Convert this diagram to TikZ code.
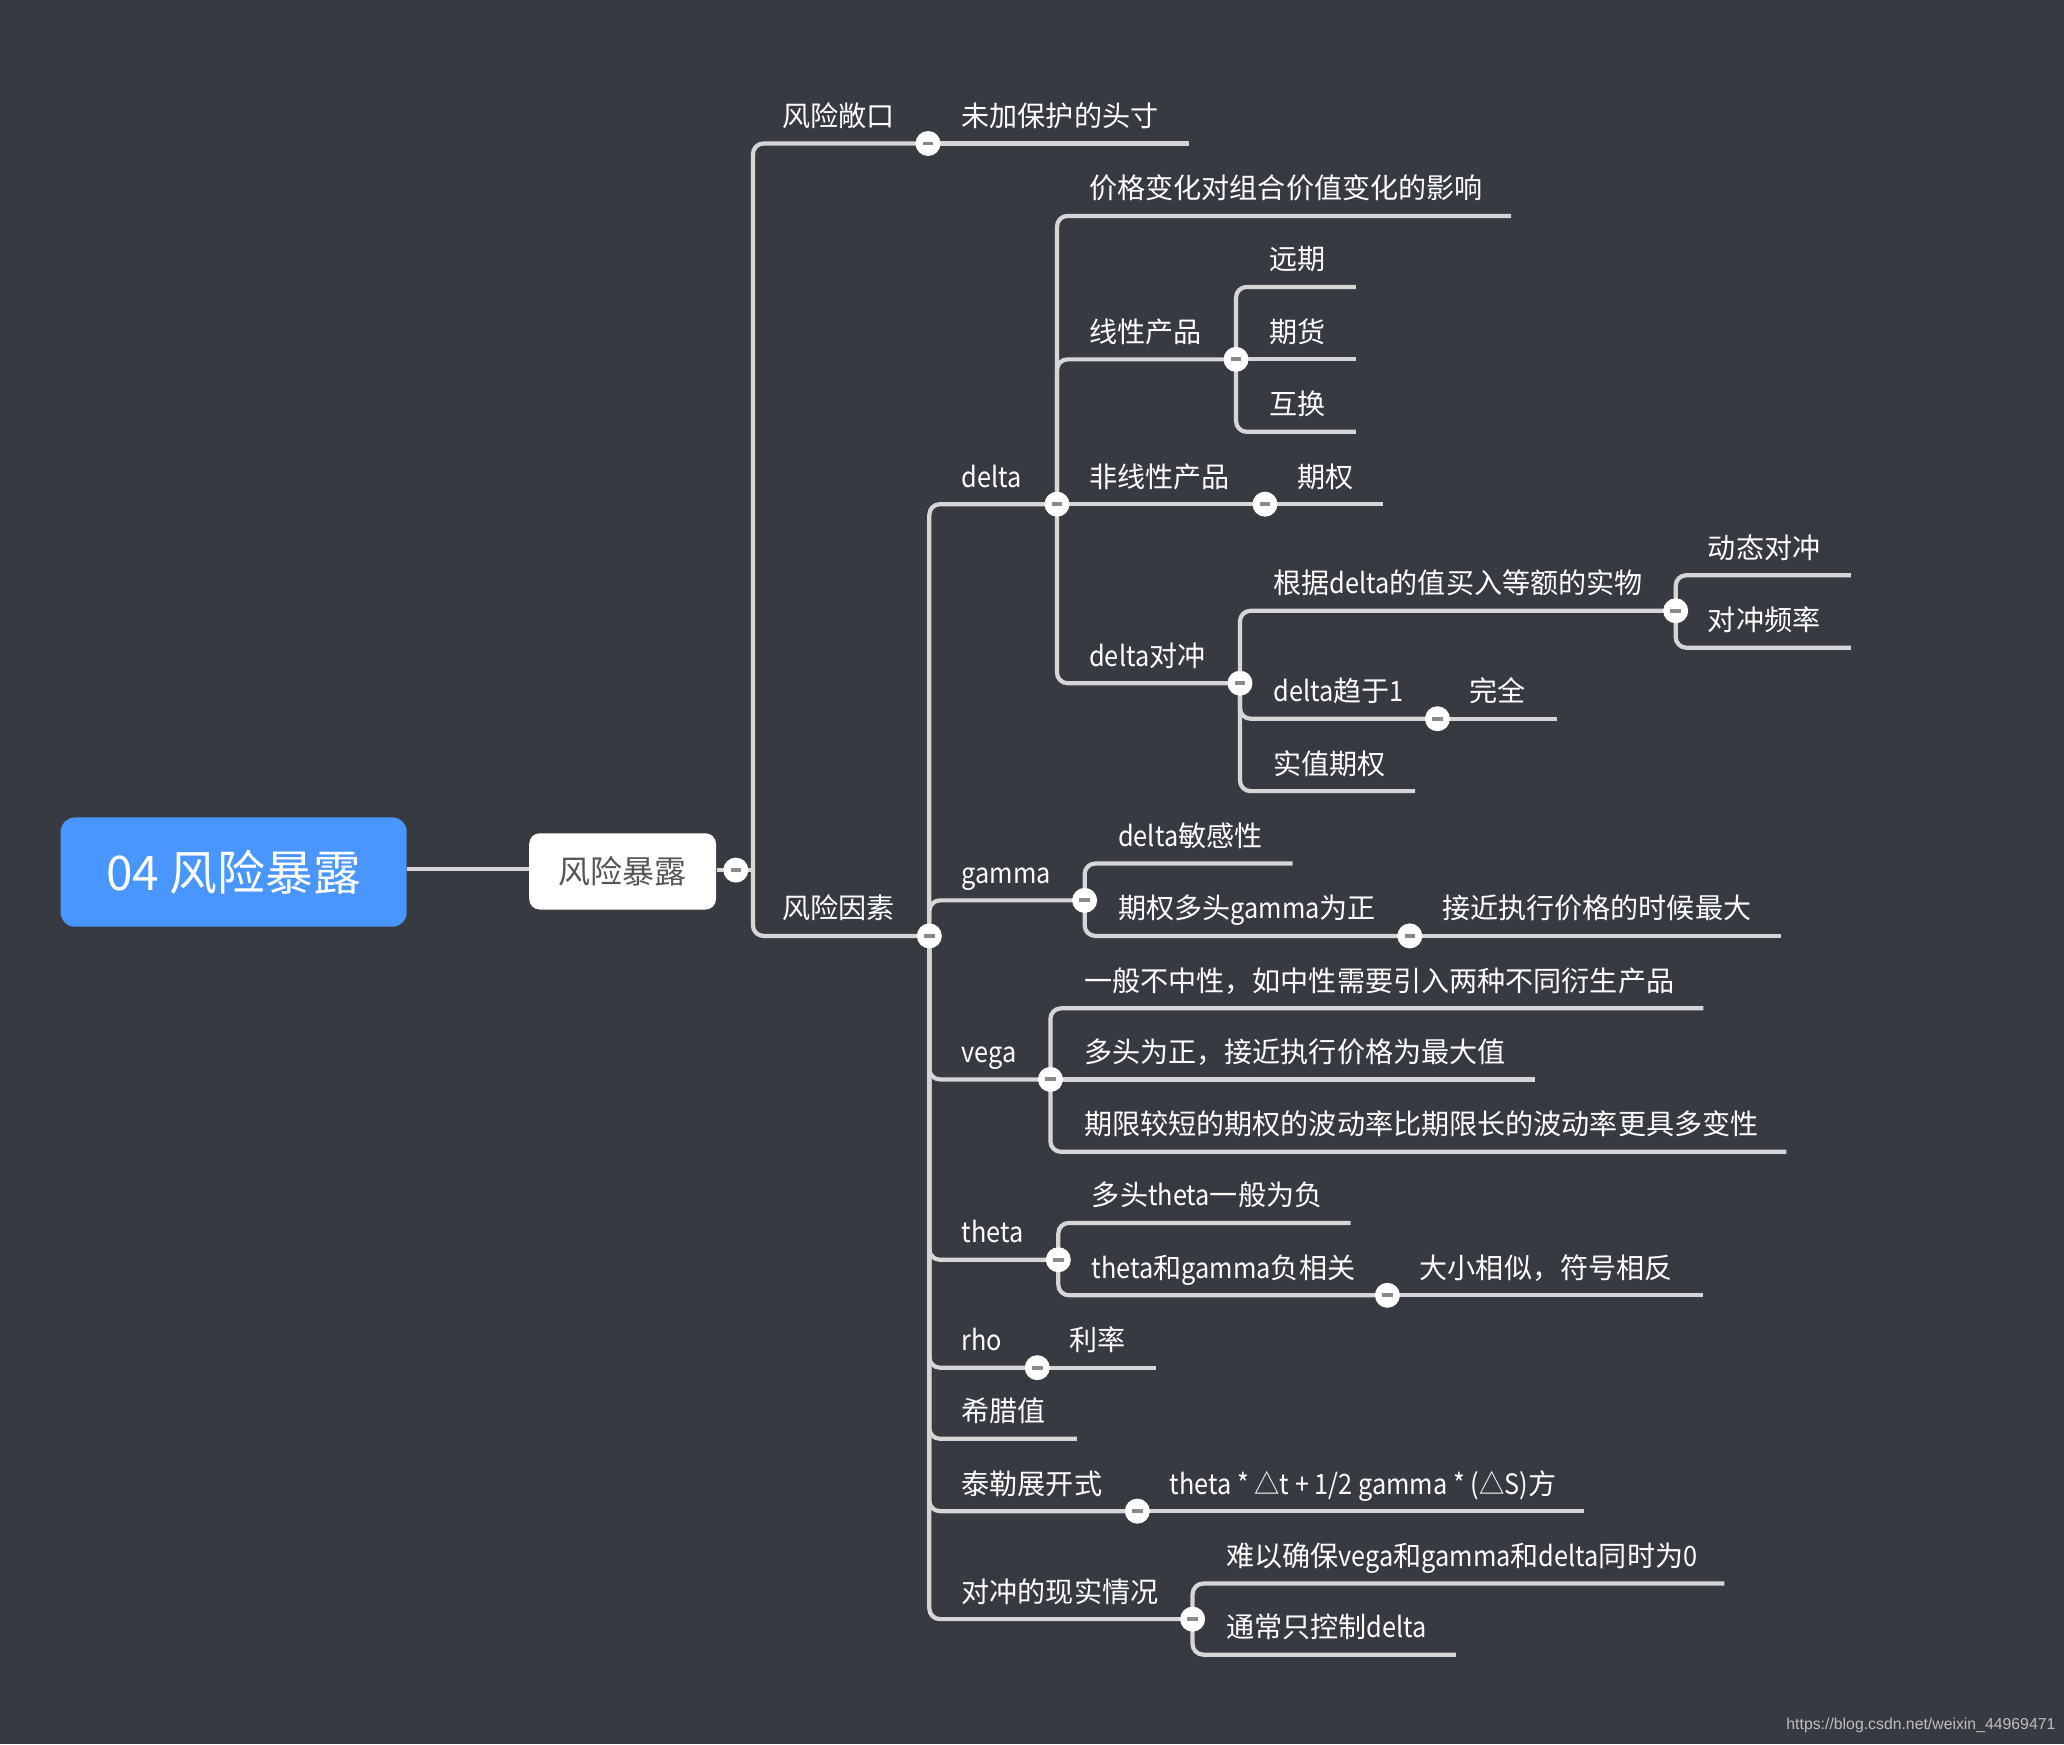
\documentclass[tikz,border=0pt]{standalone}
\usepackage{fontspec}
\setmainfont{Noto Sans CJK SC}
\newfontfamily\latinfont[FakeStretch=0.9]{Noto Sans CJK SC}
\newfontfamily\urlfont{Liberation Sans}
\newcommand{\lat}[1]{{\latinfont #1}}
\usetikzlibrary{positioning}
\definecolor{mapBg}{RGB}{55,58,64}
\definecolor{mapBlue}{RGB}{74,150,255}
\definecolor{mapLine}{RGB}{214,214,214}
\definecolor{mapMinus}{RGB}{138,138,138}
\definecolor{mapSubText}{RGB}{85,85,85}
\definecolor{mapMark}{RGB}{190,190,190}
\tikzset{
  topic/.style={text=white, font=\fontsize{8}{9}\selectfont, inner sep=0pt, anchor=base west},
  branch/.style={draw=mapLine, line width=1.2pt, rounded corners=3pt},
  fold/.style={circle, fill=white, minimum size=0.25cm, inner sep=0pt,
    path picture={\draw[mapMinus, line width=1.1pt]
      ([xshift=-1.5pt]path picture bounding box.center) -- ([xshift=1.5pt]path picture bounding box.center);}},
  rootbox/.style={fill=mapBlue, rounded corners=4pt, text=white, font=\fontsize{13.6}{15}\selectfont,
    minimum width=3.462cm, minimum height=1.0925cm, inner sep=0pt},
  subbox/.style={fill=white, rounded corners=3pt, text=mapSubText, font=\fontsize{9.1}{11}\selectfont,
    minimum width=1.869cm, minimum height=0.763cm, inner sep=0pt}
}

\begin{document}
\begin{tikzpicture}[x=0.013163cm, y=-0.013163cm]
\fill[mapBg] (0,0) rectangle (1568,1325);
\useasboundingbox (0,0) rectangle (1568,1325);

% central topics
\node[rootbox] (root) at (177.5,662.5) {04 风险暴露};
\node[subbox] (sub) at (473,662) {风险暴露};
\draw[branch] (root.east |- 0,660) -- (sub.west |- 0,660);

% fold points
\coordinate (sub-c) at (559,661);
\coordinate (trunk) at (572,661);
\coordinate (exp-c) at (705,109);
\coordinate (fac-c) at (706,711);
\coordinate (delta-c) at (803,383);
\coordinate (lin-c) at (939,273);
\coordinate (nonlin-c) at (961,383);
\coordinate (dhedge-c) at (942,519);
\coordinate (buy-c) at (1273,464);
\coordinate (done-c) at (1092,546);
\coordinate (gamma-c) at (824,684);
\coordinate (gpos-c) at (1071,711);
\coordinate (vega-c) at (798,820);
\coordinate (theta-c) at (804,957);
\coordinate (t2-c) at (1054,984);
\coordinate (rho-c) at (788,1039);
\coordinate (taylor-c) at (864,1148);
\coordinate (real-c) at (906,1230);

% underline ends of leaves
\coordinate (unhedged-e) at (903,109);
\coordinate (dimp-e) at (1148,164);
\coordinate (fwd-e) at (1030,218);
\coordinate (fut-e) at (1030,273);
\coordinate (swp-e) at (1030,328);
\coordinate (opt-e) at (1051,383);
\coordinate (dyn-e) at (1406,437);
\coordinate (freq-e) at (1406,492);
\coordinate (full-e) at (1183,546);
\coordinate (itm-e) at (1075,601);
\coordinate (gsens-e) at (982,656);
\coordinate (gmax-e) at (1353,711);
\coordinate (v1-e) at (1294,766);
\coordinate (v2-e) at (1166,820);
\coordinate (v3-e) at (1357,875);
\coordinate (t1-e) at (1026,929);
\coordinate (t3-e) at (1294,984);
\coordinate (rate-e) at (878,1039);
\coordinate (greeks-e) at (818,1093);
\coordinate (tayf-e) at (1203,1148);
\coordinate (r1-e) at (1310,1203);
\coordinate (r2-e) at (1106,1257);

% texts
\node[topic] (exp) at (594,96) {风险敞口};
\node[topic] (unhedged) at (730,96) {未加保护的头寸};
\node[topic] (fac) at (594,698) {风险因素};
\node[topic] (delta) at (730,370) {\lat{delta}};
\node[topic] (dimp) at (827,151) {价格变化对组合价值变化的影响};
\node[topic] (lin) at (827,260) {线性产品};
\node[topic] (fwd) at (964,205) {远期};
\node[topic] (fut) at (964,260) {期货};
\node[topic] (swp) at (964,315) {互换};
\node[topic] (nonlin) at (827,370) {非线性产品};
\node[topic] (opt) at (985,370) {期权};
\node[topic] (dhedge) at (827,506) {\lat{delta}对冲};
\node[topic] (buy) at (967,451) {根据\lat{delta}的值买入等额的实物};
\node[topic] (dyn) at (1297,424) {动态对冲};
\node[topic] (freq) at (1297,479) {对冲频率};
\node[topic] (done) at (967,533) {\lat{delta}趋于\lat{1}};
\node[topic] (full) at (1116,533) {完全};
\node[topic] (itm) at (967,588) {实值期权};
\node[topic] (gamma) at (730,671) {\lat{gamma}};
\node[topic] (gsens) at (849,643) {\lat{delta}敏感性};
\node[topic] (gpos) at (849,698) {期权多头\lat{gamma}为正};
\node[topic] (gmax) at (1095,698) {接近执行价格的时候最大};
\node[topic] (vega) at (730,807) {\lat{vega}};
\node[topic] (v1) at (823,753) {一般不中性，如中性需要引入两种不同衍生产品};
\node[topic] (v2) at (823,807) {多头为正，接近执行价格为最大值};
\node[topic] (v3) at (823,862) {期限较短的期权的波动率比期限长的波动率更具多变性};
\node[topic] (theta) at (730,944) {\lat{theta}};
\node[topic] (t1) at (829,916) {多头\lat{theta}一般为负};
\node[topic] (t2) at (829,971) {\lat{theta}和\lat{gamma}负相关};
\node[topic] (t3) at (1078,971) {大小相似，符号相反};
\node[topic] (rho) at (730,1026) {\lat{rho}};
\node[topic] (rate) at (812,1026) {利率};
\node[topic] (greeks) at (730,1080) {希腊值};
\node[topic] (taylor) at (730,1135) {泰勒展开式};
\node[topic] (tayf) at (888,1135) {\lat{theta * △t + 1/2 gamma * (△S)}方};
\node[topic] (real) at (730,1217) {对冲的现实情况};
\node[topic] (r1) at (931,1190) {难以确保\lat{vega}和\lat{gamma}和\lat{delta}同时为\lat{0}};
\node[topic] (r2) at (931,1244) {通常只控制\lat{delta}};

% branches
\draw[branch] (sub.east |- sub-c) -- (trunk);
\draw[branch] (trunk) |- (exp-c);
\draw[branch] (trunk) |- (fac-c);
\draw[branch] (exp-c) -- (unhedged-e);
\draw[branch] (fac-c) |- (delta-c);
\draw[branch] (fac-c) |- (gamma-c);
\draw[branch] (fac-c) |- (vega-c);
\draw[branch] (fac-c) |- (theta-c);
\draw[branch] (fac-c) |- (rho-c);
\draw[branch] (fac-c) |- (greeks-e);
\draw[branch] (fac-c) |- (taylor-c);
\draw[branch] (fac-c) |- (real-c);
\draw[branch] (delta-c) |- (dimp-e);
\draw[branch] (delta-c) |- (lin-c);
\draw[branch] (delta-c) -- (nonlin-c);
\draw[branch] (delta-c) |- (dhedge-c);
\draw[branch] (lin-c) |- (fwd-e);
\draw[branch] (lin-c) -- (fut-e);
\draw[branch] (lin-c) |- (swp-e);
\draw[branch] (nonlin-c) -- (opt-e);
\draw[branch] (dhedge-c) |- (buy-c);
\draw[branch] (dhedge-c) |- (done-c);
\draw[branch] (dhedge-c) |- (itm-e);
\draw[branch] (buy-c) |- (dyn-e);
\draw[branch] (buy-c) |- (freq-e);
\draw[branch] (done-c) -- (full-e);
\draw[branch] (gamma-c) |- (gsens-e);
\draw[branch] (gamma-c) |- (gpos-c);
\draw[branch] (gpos-c) -- (gmax-e);
\draw[branch] (vega-c) |- (v1-e);
\draw[branch] (vega-c) -- (v2-e);
\draw[branch] (vega-c) |- (v3-e);
\draw[branch] (theta-c) |- (t1-e);
\draw[branch] (theta-c) |- (t2-c);
\draw[branch] (t2-c) -- (t3-e);
\draw[branch] (rho-c) -- (rate-e);
\draw[branch] (taylor-c) -- (tayf-e);
\draw[branch] (real-c) |- (r1-e);
\draw[branch] (real-c) |- (r2-e);

% fold buttons
\foreach \f in {sub,exp,fac,delta,lin,nonlin,dhedge,buy,done,gamma,gpos,vega,theta,t2,rho,taylor,real}
  \node[fold] (\f-fold) at (\f-c) {};

\node[text=mapMark, font=\urlfont\fontsize{4.5}{5}\selectfont, anchor=base east, inner sep=0pt]
  (mark) at (1562,1314) {https://blog.csdn.net/weixin\_44969471};
\end{tikzpicture}
\end{document}
